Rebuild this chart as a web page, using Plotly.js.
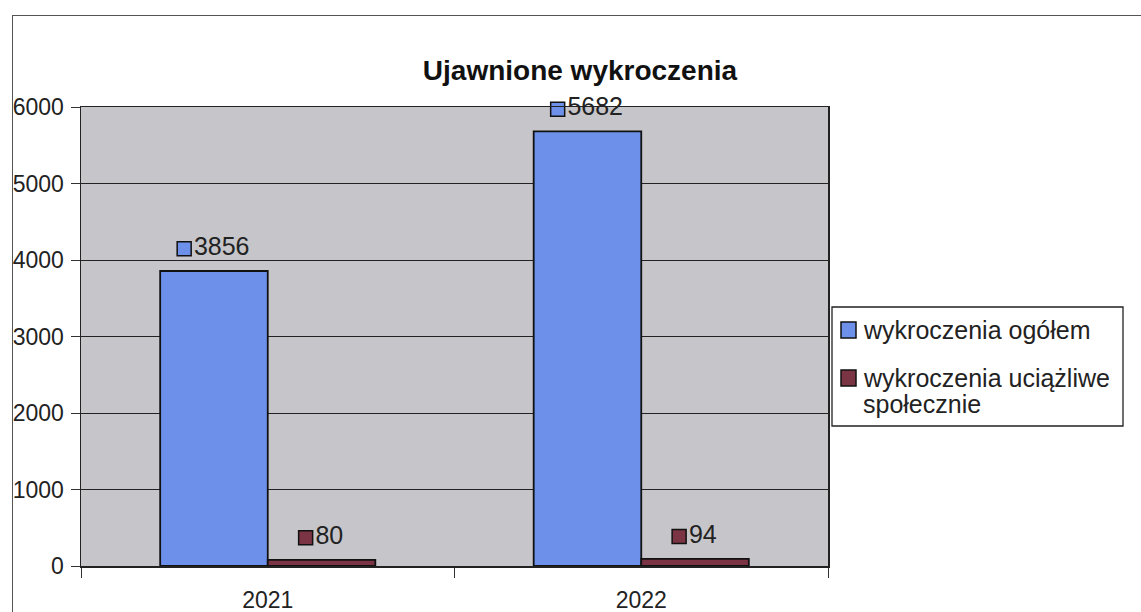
<!DOCTYPE html>
<html><head><meta charset="utf-8">
<script src="https://cdn.plot.ly/plotly-3.0.1.min.js"></script>
<style>
html,body{margin:0;padding:0;background:#fff;}
#wrap{position:relative;width:1141px;height:612px;}
#chart{position:absolute;left:0;top:0;width:1141px;height:612px;}
#frame{position:absolute;left:12px;top:15px;width:1140px;height:620px;border-left:1.5px solid #555;border-top:1.5px solid #555;pointer-events:none;}
</style></head>
<body><div id="wrap"><div id="chart"></div><div id="frame"></div></div>
<script>
const years = ['2021', '2022'];
const seriesNames = ['wykroczenia ogółem', 'wykroczenia uciążliwe<br>społecznie'];
const ogolem = [3856, 5682];
const uciazliwe = [80, 94];
const colors = ['#6d90ea', '#7a3444'];

const font = 'Liberation Sans, Arial, sans-serif';
const W = 1141, H = 612;
const M = {l: 81, r: 313, t: 107, b: 46};
const plotW = W - M.l - M.r, plotH = H - M.t - M.b;
const catPx = plotW / 2;

const xpos = years.map((_, i) => i);
const barW = 0.288;
const offsets = [-barW, 0];
const labelLift = 290;
const labelFont = 25;
const digitPx = labelFont * 0.556;
const sqPx = 14, gapPx = 4;

const series = [ogolem, uciazliwe];
const traces = [];
series.forEach((vals, s) => {
  traces.push({
    type: 'bar', x: xpos, y: vals, width: barW, offset: offsets[s],
    name: seriesNames[s], showlegend: false,
    marker: {color: colors[s], line: {color: '#111', width: 1.8}},
    hoverinfo: 'skip'
  });
});
series.forEach((vals, s) => {
  traces.push({
    type: 'scatter', mode: 'markers+text', showlegend: false,
    x: xpos.map((x, i) => {
      const total = sqPx + gapPx + String(vals[i]).length * digitPx;
      return x + offsets[s] + barW / 2 + (-total / 2 + sqPx / 2) / catPx;
    }),
    y: vals.map(v => v + labelLift),
    text: vals.map(v => String(v)),
    textposition: 'middle right',
    textfont: {family: font, size: labelFont, color: '#222'},
    marker: {symbol: 'square', size: sqPx, color: colors[s], line: {color: '#111', width: 1.5}},
    hoverinfo: 'skip', cliponaxis: false
  });
});
traces.push({type: 'scatter', x: xpos, y: [null, null], xaxis: 'x2', showlegend: false, hoverinfo: 'skip'});

// custom legend (pixel -> paper helpers)
const px = v => (v - M.l) / plotW;
const py = v => (H - M.b - v) / plotH;
const shapes = [
  {type: 'rect', xref: 'paper', yref: 'paper', x0: px(832), x1: px(1123), y0: py(426), y1: py(307),
   fillcolor: '#fff', line: {color: '#222', width: 1.3}, layer: 'above'}
];
const legendRows = [330, 378];
const lineStep = 26;
const annotations = [];
seriesNames.forEach((n, s) => {
  const cy = legendRows[s];
  shapes.push({type: 'rect', xref: 'paper', yref: 'paper', x0: px(841), x1: px(856), y0: py(cy + 8), y1: py(cy - 8),
    fillcolor: colors[s], line: {color: '#111', width: 1.5}, layer: 'above'});
  n.split('<br>').forEach((line, k) => {
    annotations.push({xref: 'paper', yref: 'paper', x: px(861), y: py(cy + k * lineStep), xanchor: 'left', yanchor: 'middle',
      text: line, showarrow: false, align: 'left', font: {family: font, size: 25, color: '#222'}});
  });
});

const layout = {
  width: W, height: H,
  margin: M,
  paper_bgcolor: 'rgba(0,0,0,0)',
  plot_bgcolor: '#c6c6ca',
  title: {text: '<b>Ujawnione wykroczenia</b>', font: {family: font, size: 28, color: '#111'}, x: 580 / W, xanchor: 'center', xref: 'container', y: 1 - 70 / H, yanchor: 'middle'},
  showlegend: false,
  shapes: shapes,
  annotations: annotations,
  xaxis: {range: [-0.5, 1.5], tickvals: [-0.5, 0.5, 1.5], ticktext: ['', '', ''], ticks: 'outside', ticklen: 10, tickcolor: '#333',
          showgrid: false, zeroline: false, showline: true, linecolor: '#222', linewidth: 1.5, mirror: true, fixedrange: true},
  xaxis2: {overlaying: 'x', matches: 'x', range: [-0.5, 1.5], tickvals: xpos, ticktext: years, ticks: '', side: 'bottom',
           tickfont: {family: font, size: 23, color: '#222'}, showgrid: false, zeroline: false, showline: false, anchor: 'y', ticklabelstandoff: 18},
  yaxis: {range: [0, 6000], dtick: 1000, ticks: 'outside', ticklen: 9, tickcolor: '#333',
          tickfont: {family: font, size: 23, color: '#222'}, showgrid: true, gridcolor: '#222', gridwidth: 1,
          zeroline: false, showline: true, linecolor: '#222', linewidth: 1.5, mirror: true, ticklabelstandoff: 2},
  barmode: 'overlay'
};
Plotly.newPlot('chart', traces, layout, {displayModeBar: false, staticPlot: true});
</script></body></html>
